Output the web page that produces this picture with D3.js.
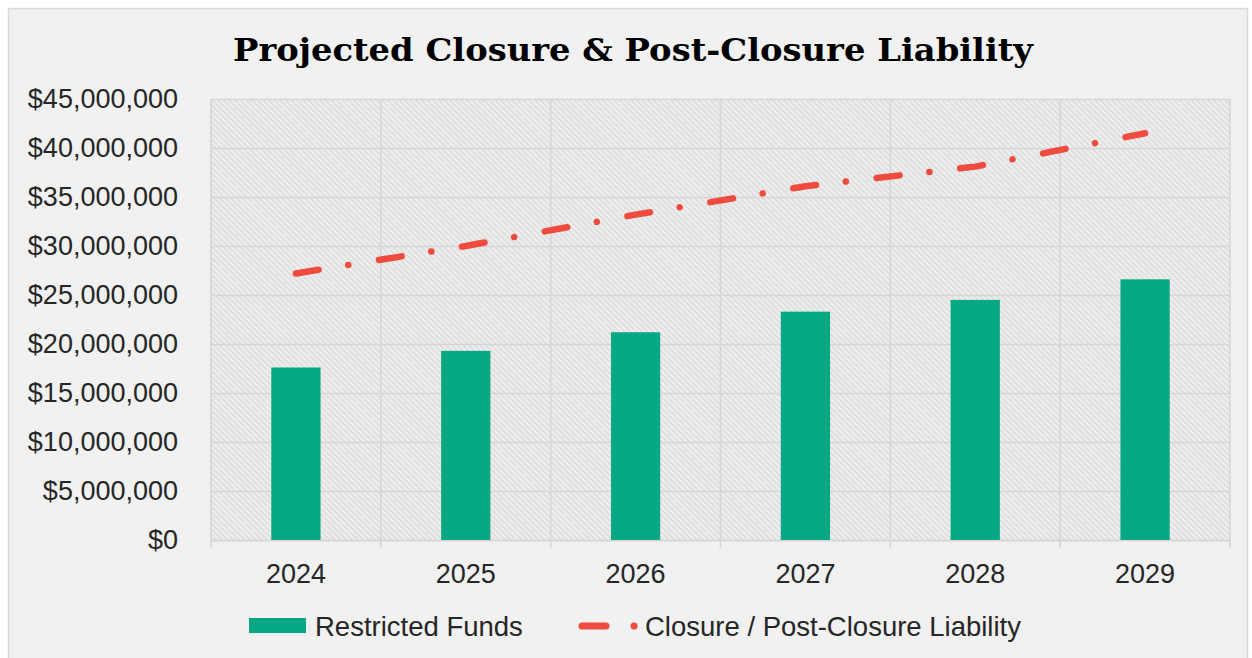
<!DOCTYPE html>
<html>
<head>
<meta charset="utf-8">
<script src="https://cdn.jsdelivr.net/npm/d3@7"></script>
<style>
  body { margin: 0; background: #ffffff; }
  svg { display: block; }
</style>
</head>
<body>
<svg id="chart" width="1252" height="658"></svg>
<script>
// ---- data ----
const chartTitle = "Projected Closure & Post-Closure Liability";
const years = ["2024", "2025", "2026", "2027", "2028", "2029"];
const restrictedFunds = [17600000, 19300000, 21200000, 23300000, 24500000, 26600000];
const closureLiability = [27200000, 30000000, 33200000, 36100000, 38100000, 41500000];
const yTickValues = [0, 5000000, 10000000, 15000000, 20000000, 25000000, 30000000, 35000000, 40000000, 45000000];
const seriesNames = ["Restricted Funds", "Closure / Post-Closure Liability"];

// ---- layout ----
const W = 1252, H = 658;
const plot = { left: 211, right: 1230, top: 99, bottom: 540 };
const colors = { bar: "#05a882", line: "#ef4b3e", grid: "#d6d6d6", text: "#262626" };
const sansFont = "'Liberation Sans', Arial, sans-serif";

const svg = d3.select("#chart");
const defs = svg.append("defs");

// diagonal hatch used for the plot area
const hatch = defs.append("pattern")
  .attr("id", "hatch")
  .attr("patternUnits", "userSpaceOnUse")
  .attr("width", 4).attr("height", 4)
  .attr("patternTransform", "rotate(45)");
hatch.append("rect").attr("width", 4).attr("height", 4).attr("fill", "#eeeeee");
hatch.append("rect").attr("width", 4).attr("height", 1.4).attr("fill", "#dadada");

// chart frame
svg.append("rect")
  .attr("x", 8.5).attr("y", 8.5)
  .attr("width", W - 13).attr("height", H - 5)
  .attr("fill", "#f1f1f1")
  .attr("stroke", "#d9d9d9").attr("stroke-width", 1.5);

// scales
const x = d3.scaleBand().domain(years).range([plot.left, plot.right]).paddingInner(0).paddingOuter(0);
const y = d3.scaleLinear().domain([0, 45000000]).range([plot.bottom, plot.top]);

// plot background
svg.append("rect")
  .attr("x", plot.left).attr("y", plot.top)
  .attr("width", plot.right - plot.left).attr("height", plot.bottom - plot.top)
  .attr("fill", "url(#hatch)");

// horizontal gridlines + y labels
const yAxis = d3.axisLeft(y)
  .tickValues(yTickValues)
  .tickFormat(d => "$" + d3.format(",")(d))
  .tickSize(-(plot.right - plot.left))
  .tickPadding(33);

const gy = svg.append("g")
  .attr("transform", `translate(${plot.left},0)`)
  .call(yAxis);
gy.select(".domain").remove();
gy.selectAll(".tick line").attr("stroke", colors.grid).attr("stroke-width", 1.6);
gy.selectAll(".tick text")
  .attr("fill", colors.text)
  .style("font-family", sansFont)
  .style("font-size", "27px");

// vertical gridlines at category boundaries, extending below the baseline as ticks
const boundaries = years.map(d => x(d)).concat([plot.right]);
svg.append("g").selectAll("line")
  .data(boundaries)
  .join("line")
  .attr("x1", d => d).attr("x2", d => d)
  .attr("y1", plot.top).attr("y2", plot.bottom + 8)
  .attr("stroke", colors.grid).attr("stroke-width", 1.6);

// x labels
const xAxis = d3.axisBottom(x).tickSize(0).tickPadding(24);
const gx = svg.append("g")
  .attr("transform", `translate(0,${plot.bottom})`)
  .call(xAxis);
gx.select(".domain").attr("stroke", colors.grid).attr("stroke-width", 1.6);
gx.selectAll(".tick text")
  .attr("fill", colors.text)
  .style("font-family", sansFont)
  .style("font-size", "27px");

// bars
const barW = x.bandwidth() * 0.29;
svg.append("g").selectAll("rect")
  .data(years.map((d, i) => ({ year: d, value: restrictedFunds[i] })))
  .join("rect")
  .attr("x", d => x(d.year) + (x.bandwidth() - barW) / 2)
  .attr("y", d => y(d.value))
  .attr("width", barW)
  .attr("height", d => y(0) - y(d.value))
  .attr("fill", colors.bar);

// liability line (dash-dot)
const line = d3.line()
  .x(d => x(d.year) + x.bandwidth() / 2)
  .y(d => y(d.value));
svg.append("path")
  .datum(years.map((d, i) => ({ year: d, value: closureLiability[i] })))
  .attr("d", line)
  .attr("fill", "none")
  .attr("stroke", colors.line)
  .attr("stroke-width", 6.5)
  .attr("stroke-linecap", "round")
  .attr("stroke-dasharray", "23 30 0.1 31");

// title, fitted to its width
svg.append("text")
  .attr("x", 633).attr("y", 61)
  .attr("text-anchor", "middle")
  .attr("fill", "#000")
  .attr("textLength", 800)
  .attr("lengthAdjust", "spacingAndGlyphs")
  .style("font-family", "'DejaVu Serif', Georgia, serif")
  .style("font-weight", "bold")
  .style("font-size", "31px")
  .text(chartTitle);

// legend
const legend = svg.append("g");
legend.append("rect")
  .attr("x", 249).attr("y", 618).attr("width", 57).attr("height", 15)
  .attr("fill", colors.bar);
legend.append("text")
  .attr("x", 315).attr("y", 636)
  .attr("fill", colors.text)
  .style("font-family", sansFont)
  .style("font-size", "27.5px")
  .text(seriesNames[0]);
legend.append("path")
  .attr("d", "M582,626 H640")
  .attr("fill", "none")
  .attr("stroke", colors.line)
  .attr("stroke-width", 7)
  .attr("stroke-linecap", "round")
  .attr("stroke-dasharray", "24 28 0.1 40");
legend.append("text")
  .attr("x", 645).attr("y", 636)
  .attr("fill", colors.text)
  .style("font-family", sansFont)
  .style("font-size", "27.5px")
  .text(seriesNames[1]);
</script>
</body>
</html>
